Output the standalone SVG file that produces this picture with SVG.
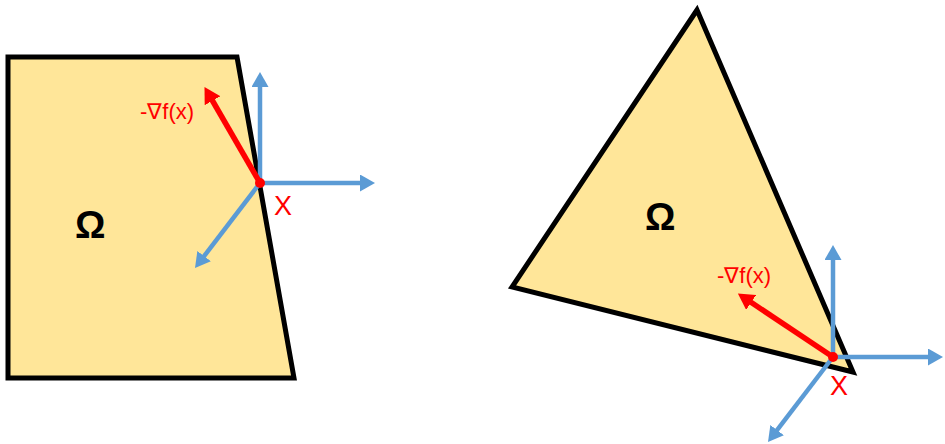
<svg xmlns="http://www.w3.org/2000/svg" width="945" height="444" viewBox="0 0 945 444">
<style>
.region{fill:#FFE699;stroke:#000;stroke-width:5;stroke-linejoin:miter}
.axis{stroke:#5B9BD5;stroke-width:4.5;fill:none}
.grad{stroke:#FF0000;stroke-width:5.5;fill:none}
.omega{font-family:"Liberation Sans",Arial,sans-serif;font-weight:bold;font-size:38px;fill:#000}
.lbl{font-family:"Liberation Sans",Arial,sans-serif;font-size:22px;fill:#FF0000}
.xl{font-family:"Liberation Sans",Arial,sans-serif;font-size:27px;fill:#FF0000}
</style>
<defs>
<marker id="ab" markerUnits="userSpaceOnUse" markerWidth="17" markerHeight="17" refX="2" refY="8.5" orient="auto" viewBox="0 0 17 17">
<path d="M0,0 L15,8.5 L0,17 z" fill="#5B9BD5"/>
</marker>
<marker id="ar" markerUnits="userSpaceOnUse" markerWidth="18" markerHeight="18" refX="2" refY="9" orient="auto" viewBox="0 0 18 18">
<path d="M0,0 L16,9 L0,18 z" fill="#FF0000"/>
</marker>
</defs>
<g id="left-region">
<polygon class="region" points="8,57 237,57 294,378 8,378"/>
<text class="omega" x="75" y="238">Ω</text>
</g>
<g id="right-region">
<polygon class="region" points="697,10 512,287 853,372"/>
<text class="omega" x="645" y="230">Ω</text>
</g>
<g id="connectors">
<line class="axis" x1="260" y1="183" x2="260" y2="85" marker-end="url(#ab)"/>
<line class="axis" x1="260" y1="183" x2="362" y2="183" marker-end="url(#ab)"/>
<line class="axis" x1="260" y1="183" x2="202.9" y2="257.7" marker-end="url(#ab)"/>
<line class="grad" x1="260" y1="183" x2="211.5" y2="99" marker-end="url(#ar)"/>
<line class="axis" x1="833" y1="357" x2="833" y2="258" marker-end="url(#ab)"/>
<line class="axis" x1="833" y1="357" x2="930" y2="357" marker-end="url(#ab)"/>
<line class="axis" x1="833" y1="357" x2="775.9" y2="431.7" marker-end="url(#ab)"/>
<line class="grad" x1="833" y1="357" x2="749.5" y2="301.3" marker-end="url(#ar)"/>
</g>
<g id="point-left">
<circle cx="260" cy="183" r="5" fill="#FF0000"/>
<text class="lbl" x="140" y="119">-∇f(x)</text>
<text class="xl" x="274" y="215">X</text>
</g>
<g id="point-right">
<circle cx="833" cy="357" r="5" fill="#FF0000"/>
<text class="lbl" x="717" y="283">-∇f(x)</text>
<text class="xl" x="830" y="395">X</text>
</g>
</svg>
